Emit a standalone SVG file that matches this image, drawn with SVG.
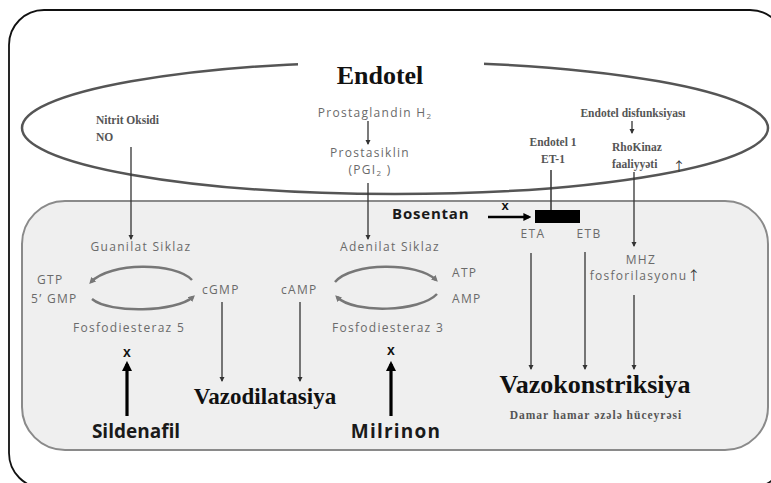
<svg xmlns="http://www.w3.org/2000/svg" width="771" height="483" viewBox="0 0 771 483">
<style>
.sans{font-family:"Open Sans","Liberation Sans",sans-serif;fill:#6a6a6a;font-size:12px;letter-spacing:1.3px}
.serifs{font-family:"Liberation Serif",serif;font-weight:bold;fill:#555;font-size:11.5px}
.big{font-family:"Liberation Serif",serif;font-weight:bold;fill:#111}
.drug{font-family:"Open Sans","Liberation Sans",sans-serif;font-weight:bold;fill:#1a1a1a}
.x{font-family:"Liberation Sans",sans-serif;font-weight:bold;fill:#111}
.arw{font-family:"Noto Sans CJK SC",sans-serif;fill:#333}
.thin{stroke:#333;stroke-width:1.3;fill:none;marker-end:url(#ah)}
.cyc{stroke:#777;stroke-width:2.5;fill:none}
.thick{stroke:#000;stroke-width:3.2;fill:none;marker-end:url(#bh)}
</style>
<defs>
<marker id="ah" viewBox="0 0 10 10" refX="8" refY="5" markerWidth="4" markerHeight="4" markerUnits="strokeWidth" orient="auto"><path d="M0,0 L10,5 L0,10 z" fill="#333"/></marker>
<marker id="bh" viewBox="0 0 10 10" refX="7" refY="5" markerWidth="3.2" markerHeight="3.2" markerUnits="strokeWidth" orient="auto"><path d="M0,0 L10,5 L0,10 z" fill="#000"/></marker>
<marker id="ch" viewBox="0 0 10 10" refX="6" refY="5" markerWidth="2.6" markerHeight="2.6" markerUnits="strokeWidth" orient="auto"><path d="M0,0 L10,5 L0,10 z" fill="#777"/></marker>
</defs>
<rect width="771" height="483" fill="#fff"/>
<g id="frame"><rect x="9" y="10" width="776" height="478" rx="35" fill="none" stroke="#111" stroke-width="1.8"/></g>
<g id="cell"><rect x="22" y="201" width="746" height="249" rx="43" fill="#efefef" stroke="#8a8a8a" stroke-width="2"/></g>
<g id="endotel">
<ellipse cx="395" cy="128" rx="373" ry="66" fill="none" stroke="#555" stroke-width="2.5"/>
<rect x="298" y="55" width="186" height="20" fill="#fff"/>
<text x="380" y="84" text-anchor="middle" class="big" font-size="26">Endotel</text>
</g>
<g id="connectors">
<line class="thin" x1="131" y1="147" x2="131" y2="239"/>
<line class="thin" x1="368" y1="121" x2="368" y2="144"/>
<line class="thin" x1="368" y1="183" x2="368" y2="239"/>
<line x1="551" y1="170" x2="551" y2="210" stroke="#333" stroke-width="1.5"/>
<line class="thin" x1="632" y1="121" x2="632" y2="133"/>
<line class="thin" x1="634" y1="172" x2="634" y2="246"/>
<line class="thin" x1="222" y1="302" x2="222" y2="381"/>
<line class="thin" x1="300" y1="302" x2="300" y2="381"/>
<line class="thin" x1="531" y1="253" x2="531" y2="369"/>
<line class="thin" x1="585" y1="252" x2="585" y2="369"/>
<line class="thin" x1="634" y1="295" x2="634" y2="369"/>
<path class="cyc" d="M192 280 C175 262 110 262 91 282" marker-end="url(#ch)"/>
<path class="cyc" d="M92 299 C110 314 176 312 193 297" marker-end="url(#ch)"/>
<path class="cyc" d="M335 282 C352 262 418 262 436 280" marker-end="url(#ch)"/>
<path class="cyc" d="M437 294 C420 312 354 314 337 297" marker-end="url(#ch)"/>
<line class="thick" x1="127" y1="416" x2="127" y2="364"/>
<line class="thick" x1="391" y1="416" x2="391" y2="364"/>
<line x1="488" y1="217" x2="529" y2="217" stroke="#000" stroke-width="2.5" marker-end="url(#bh)"/>
</g>
<g id="n-no"><text class="serifs" x="96" y="124">Nitrit Oksidi</text><text class="serifs" x="96" y="141">NO</text></g>
<g id="n-pgh2"><text class="sans" x="375" y="117" text-anchor="middle">Prostaglandin H<tspan font-size="8" dy="2">2</tspan></text></g>
<g id="n-pgi2"><text class="sans" x="370" y="157" text-anchor="middle">Prostasiklin</text><text class="sans" x="370" y="174" text-anchor="middle">(PGI<tspan font-size="8" dy="2">2</tspan><tspan dy="-2"> )</tspan></text></g>
<g id="n-disf"><text class="serifs" x="633" y="117" text-anchor="middle" font-size="11">Endotel disfunksiyası</text></g>
<g id="n-et1"><text class="serifs" x="553" y="146" text-anchor="middle">Endotel 1</text><text class="serifs" x="553" y="163" text-anchor="middle" font-size="12.5">ET-1</text></g>
<g id="n-rho"><text class="serifs" x="612" y="151">RhoKinaz</text><text class="serifs" x="612" y="168">faaliyyəti</text><text class="arw" x="679" y="171" font-size="13" text-anchor="middle">↑</text></g>
<g id="n-bosentan"><text class="drug" x="392" y="219" font-size="15" letter-spacing="0.8">Bosentan</text><text class="x" x="505" y="210" font-size="13" text-anchor="middle">x</text></g>
<g id="n-receptor"><rect x="535" y="210" width="45" height="13" fill="#000"/></g>
<g id="n-eta"><text class="sans" x="533" y="238" text-anchor="middle" font-size="11">ETA</text></g>
<g id="n-etb"><text class="sans" x="589" y="238" text-anchor="middle" font-size="11">ETB</text></g>
<g id="n-mhz"><text class="sans" x="641" y="264" text-anchor="middle">MHZ</text><text class="sans" x="645" y="280" text-anchor="middle">fosforilasyonu<tspan class="arw" font-size="13" letter-spacing="0">↑</tspan></text></g>
<g id="n-gc"><text class="sans" x="141" y="251" text-anchor="middle">Guanilat Siklaz</text></g>
<g id="n-gtp"><text class="sans" x="37" y="284">GTP</text><text class="sans" x="31" y="303">5’ GMP</text></g>
<g id="n-cgmp"><text class="sans" x="202" y="294">cGMP</text></g>
<g id="n-pde5"><text class="sans" x="129" y="332" text-anchor="middle">Fosfodiesteraz 5</text><text class="x" x="127" y="357" font-size="14" text-anchor="middle">x</text></g>
<g id="n-sildenafil"><text class="drug" x="136" y="438" font-size="19" text-anchor="middle">Sildenafil</text></g>
<g id="n-camp"><text class="sans" x="281" y="294">cAMP</text></g>
<g id="n-ac"><text class="sans" x="390" y="251" text-anchor="middle">Adenilat Siklaz</text></g>
<g id="n-atp"><text class="sans" x="452" y="277">ATP</text><text class="sans" x="452" y="303">AMP</text></g>
<g id="n-pde3"><text class="sans" x="388" y="332" text-anchor="middle">Fosfodiesteraz 3</text><text class="x" x="391" y="355" font-size="14" text-anchor="middle">x</text></g>
<g id="n-milrinon"><text class="drug" x="396" y="438" font-size="19" letter-spacing="1.2" text-anchor="middle">Milrinon</text></g>
<g id="n-vazodil"><text class="big" x="265" y="404" text-anchor="middle" font-size="23">Vazodilatasiya</text></g>
<g id="n-vazokon"><text class="big" x="595" y="393" text-anchor="middle" font-size="26">Vazokonstriksiya</text><text class="serifs" x="596" y="419" text-anchor="middle" font-size="15" letter-spacing="1">Damar hamar əzələ hüceyrəsi</text></g>
</svg>
